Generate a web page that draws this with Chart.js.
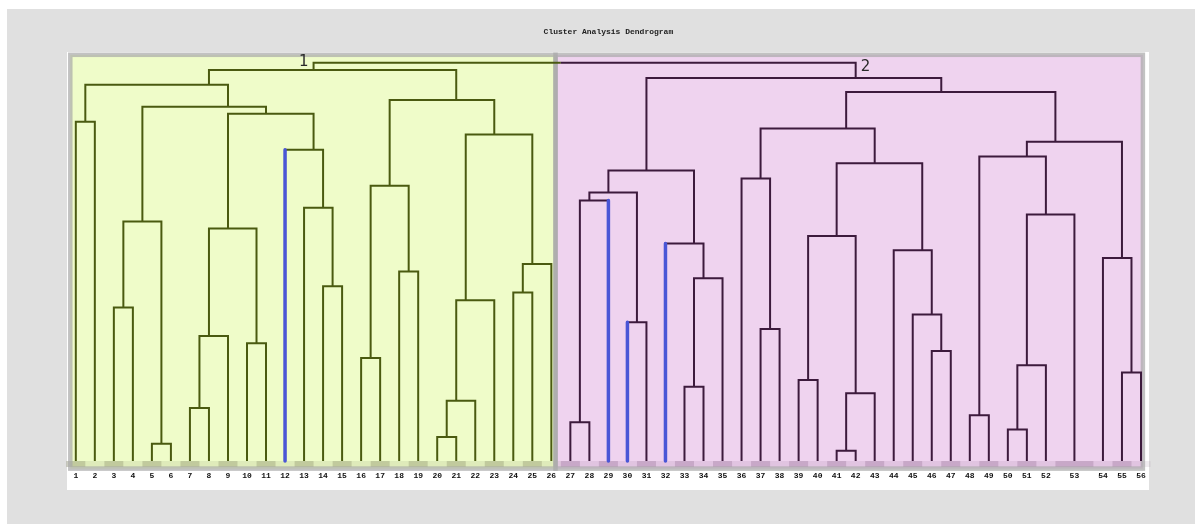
<!DOCTYPE html>
<html>
<head>
<meta charset="utf-8">
<script src="https://cdn.jsdelivr.net/npm/chart.js@4.4.1/dist/chart.umd.min.js"></script>
<style>
  html, body { margin: 0; padding: 0; background: #fff; }
  #wrap { position: absolute; left: 0; top: 0; width: 1195px; height: 524px; }
</style>
</head>
<body>
<div id="wrap"><canvas id="dendro" width="1195" height="524"></canvas></div>
<script>
// leaves in display order; leaf 53 stands for a pair, so it takes a double slot
const LEAF_LABELS = ["1","2","3","4","5","6","7","8","9","10","11","12","13","14","15","16","17","18","19","20",
  "21","22","23","24","25","26","27","28","29","30","31","32","33","34","35","36","37","38","39","40",
  "41","42","43","44","45","46","47","48","49","50","51","52","53","54","55","56"];
const LEAF_WEIGHT = [1,1,1,1,1,1,1,1,1,1,1,1,1,1,1,1,1,1,1,1,1,1,1,1,1,1,1,1,1,1,
  1,1,1,1,1,1,1,1,1,1,1,1,1,1,1,1,1,1,1,1,1,1,2,1,1,1];

// hclust-style merge table: negative = leaf number, positive = earlier merge (1-based)
const MERGE_LEFT = [-1,-3,-5,2,-7,5,-10,6,-14,-13,-12,8,4,1,-16,-18,15,-20,18,19,-24,21,20,17,14,
  -27,26,-30,27,-33,30,-32,29,-37,-36,-39,-41,37,36,-46,-45,-44,39,35,-48,-50,46,47,45,-55,-54,49,44,33,25];
const MERGE_RIGHT = [-2,-4,-6,3,-8,-9,-11,7,-15,9,10,11,12,13,-17,-19,16,-21,-22,-23,-25,-26,22,23,24,
  -28,-29,-31,28,-34,-35,31,32,-38,34,-40,-42,-43,38,-47,40,41,42,43,-49,-51,-52,-53,48,-56,50,51,52,53,54];
const MERGE_HEIGHT = [8.50,3.85,0.43,6.00,1.33,3.13,2.95,5.83,4.38,6.35,7.80,8.70,8.88,9.43,2.58,4.75,6.90,0.60,1.51,4.03,
  4.22,4.94,8.18,9.05,9.80,0.97,6.53,3.48,6.73,1.86,4.58,5.45,7.28,3.31,7.08,2.03,0.26,1.70,5.64,2.76,
  3.67,5.28,7.46,8.33,1.15,0.79,2.40,6.18,7.63,2.22,5.09,8.00,9.25,9.60,9.98];

const CLUSTER_NAMES = ["1", "2"];
const CLUSTER_ROOTS = [25, 54];
const HIGHLIGHT_LEAVES = [12, 29, 30, 32];

const LINE_COLOURS = ["#4a5a10", "#3c1a3c"];
const FILL_COLOURS = ["#effcc9", "#efd3ef"];
const STRIP_DARK = ["rgba(110,115,80,0.36)", "rgba(110,70,110,0.30)"];
const STRIP_LIGHT = ["rgba(110,115,80,0.12)", "rgba(110,70,110,0.10)"];
const BLUE = "#4a56d6";

// leaf slots -> x positions (slot centres); a node sits in the middle of its slot span
const leafLo = [], leafHi = [], leafX = [];
let cursor = 0.5;
LEAF_WEIGHT.forEach((w, i) => {
  leafLo[i] = cursor;
  leafHi[i] = cursor + w;
  leafX[i] = cursor + w / 2;
  cursor += w;
});

const nodes = [];
function ref(id) {
  if (id < 0) {
    const i = -id - 1;
    return { x: leafX[i], y: 0, lo: leafLo[i], hi: leafHi[i] };
  }
  return nodes[id - 1];
}
MERGE_HEIGHT.forEach((h, k) => {
  const a = ref(MERGE_LEFT[k]), b = ref(MERGE_RIGHT[k]);
  const lo = Math.min(a.lo, b.lo), hi = Math.max(a.hi, b.hi);
  nodes.push({ x: (lo + hi) / 2, y: h, lo, hi, a, b });
});

const clusterOf = new Array(MERGE_HEIGHT.length).fill(-1);
function mark(id, c) {
  if (id < 0) return;
  clusterOf[id - 1] = c;
  mark(MERGE_LEFT[id - 1], c);
  mark(MERGE_RIGHT[id - 1], c);
}
CLUSTER_ROOTS.forEach((r, c) => mark(r, c));

const leafParentH = [];
MERGE_HEIGHT.forEach((h, k) => {
  if (MERGE_LEFT[k] < 0) leafParentH[-MERGE_LEFT[k] - 1] = h;
  if (MERGE_RIGHT[k] < 0) leafParentH[-MERGE_RIGHT[k] - 1] = h;
});

const splitX = nodes[CLUSTER_ROOTS[0] - 1].hi;

const datasets = nodes.map((n, k) => {
  const pts = [{ x: n.a.x, y: n.a.y }, { x: n.a.x, y: n.y }];
  const root = clusterOf[k] < 0;
  if (root) pts.push({ x: splitX, y: n.y });
  pts.push({ x: n.b.x, y: n.y }, { x: n.b.x, y: n.b.y });
  const ds = {
    data: pts,
    showLine: true,
    borderColor: root ? LINE_COLOURS[0] : LINE_COLOURS[clusterOf[k]],
    borderWidth: 2,
    pointRadius: 0,
    borderJoinStyle: "miter",
    order: 1,
  };
  if (root) {
    ds.segment = { borderColor: (ctx) => (ctx.p0.parsed.x < splitX ? LINE_COLOURS[0] : LINE_COLOURS[1]) };
  }
  return ds;
});
// highlighted leaves: drawn on top of the tree links
HIGHLIGHT_LEAVES.forEach((leaf) => {
  datasets.push({
    data: [{ x: leafX[leaf - 1], y: leafParentH[leaf - 1] }, { x: leafX[leaf - 1], y: 0 }],
    showLine: true,
    borderColor: BLUE,
    borderWidth: 3.5,
    borderCapStyle: "round",
    pointRadius: 0,
    order: 0,
  });
});

// page chrome: grey backdrop, white plot panel
const backdrop = {
  id: "backdrop",
  beforeDraw(chart) {
    const c = chart.ctx;
    c.save();
    c.fillStyle = "#e0e0e0";
    c.fillRect(7, 9, chart.width - 7, chart.height - 9);
    c.fillStyle = "#ffffff";
    c.fillRect(67, 52, 1082, 438);
    c.restore();
  },
};

// cluster panels, the leaf strip and the panel frames
const BOX_EDGES = [0.71, 26.22, 57.1];
const clusterPanels = {
  id: "clusterPanels",
  beforeDatasetsDraw(chart) {
    const c = chart.ctx, xs = chart.scales.x, ys = chart.scales.y;
    const top = ys.getPixelForValue(10.18), bottom = ys.getPixelForValue(-0.19);
    const base = ys.getPixelForValue(0), stripBottom = ys.getPixelForValue(-0.15);
    c.save();
    CLUSTER_NAMES.forEach((_, ci) => {
      const l = xs.getPixelForValue(BOX_EDGES[ci]), r = xs.getPixelForValue(BOX_EDGES[ci + 1]);
      c.fillStyle = FILL_COLOURS[ci];
      c.fillRect(l, top, r - l, bottom - top);
    });
    LEAF_LABELS.forEach((_, i) => {
      const ci = i < 26 ? 0 : 1;
      const l = xs.getPixelForValue(leafLo[i]), r = xs.getPixelForValue(leafHi[i]);
      c.fillStyle = i % 2 === 0 ? STRIP_DARK[ci] : STRIP_LIGHT[ci];
      c.fillRect(l, base, r - l, stripBottom - base);
    });
    c.strokeStyle = "rgba(168,168,168,0.7)";
    c.lineWidth = 4.5;
    CLUSTER_NAMES.forEach((_, ci) => {
      const l = xs.getPixelForValue(BOX_EDGES[ci]), r = xs.getPixelForValue(BOX_EDGES[ci + 1]);
      c.strokeRect(l, top, r - l, bottom - top);
    });
    c.restore();
  },
  afterDatasetsDraw(chart) {
    const c = chart.ctx, xs = chart.scales.x, ys = chart.scales.y;
    c.save();
    c.font = "15px 'DejaVu Sans'";
    c.fillStyle = "#2a2a2a";
    c.textBaseline = "middle";
    const r1 = nodes[CLUSTER_ROOTS[0] - 1], r2 = nodes[CLUSTER_ROOTS[1] - 1];
    const topY = ys.getPixelForValue(MERGE_HEIGHT[MERGE_HEIGHT.length - 1]);
    c.textAlign = "right";
    c.fillText(CLUSTER_NAMES[0], xs.getPixelForValue(r1.x) - 5, topY - 1);
    c.textAlign = "left";
    c.fillText(CLUSTER_NAMES[1], xs.getPixelForValue(r2.x) + 5, topY + 4);
    c.restore();
  },
};

new Chart(document.getElementById("dendro"), {
  type: "scatter",
  data: { datasets },
  options: {
    responsive: false,
    animation: false,
    events: [],
    layout: { padding: { left: 66.3, right: 44.5, top: 0, bottom: 42.4 } },
    plugins: {
      legend: { display: false },
      tooltip: { enabled: false },
      title: {
        display: true,
        text: "Cluster Analysis Dendrogram",
        color: "#222",
        font: { family: "'Liberation Mono', monospace", size: 8, weight: "bold" },
        padding: { top: 27, bottom: 15.4 },
      },
    },
    scales: {
      x: {
        type: "linear",
        min: 0.5,
        max: 57.5,
        bounds: "data",
        grid: { display: false, drawTicks: false },
        border: { display: false },
        afterBuildTicks: (scale) => {
          scale.ticks = leafX.map((v) => ({ value: v }));
        },
        ticks: {
          autoSkip: false,
          maxRotation: 0,
          padding: 1,
          color: "#111",
          font: { family: "'Liberation Mono', monospace", size: 8, weight: "bold" },
          callback: (value, index) => LEAF_LABELS[index],
        },
      },
      y: {
        type: "linear",
        display: false,
        min: -0.225,
        max: 10.25,
      },
    },
  },
  plugins: [backdrop, clusterPanels],
});
</script>
</body>
</html>
